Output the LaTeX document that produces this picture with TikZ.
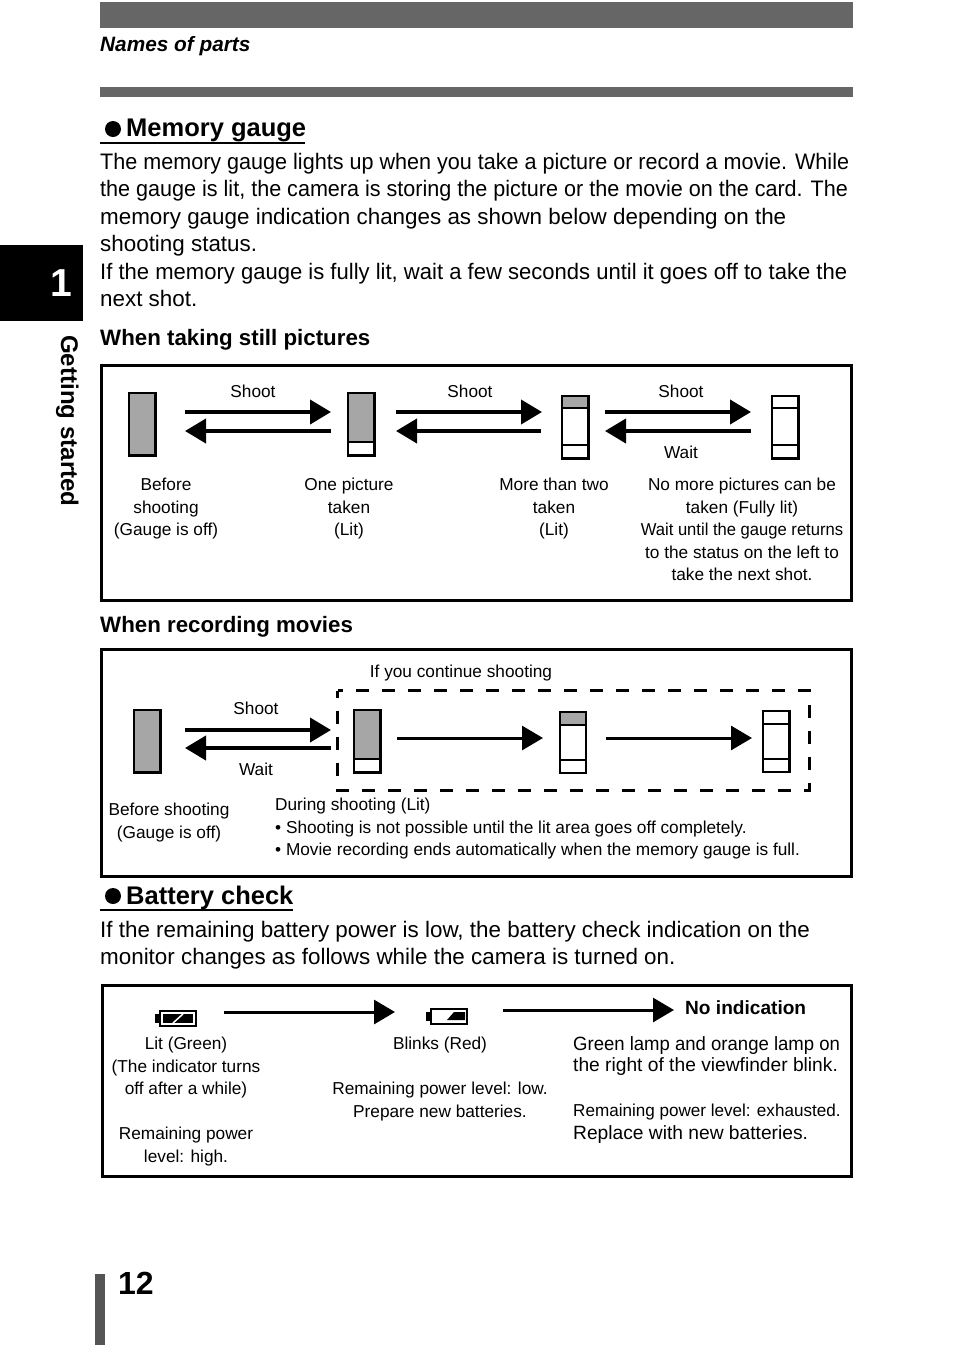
\documentclass[tikz,border=0pt]{standalone}
\usepackage{fontspec}
\setmainfont{Liberation Sans}
\usetikzlibrary{arrows.meta}
\definecolor{bargray}{HTML}{666666}
\definecolor{gaugegray}{HTML}{A6A6A6}
\definecolor{markgray}{HTML}{555555}
\newcommand{\bigline}[1]{\fontsize{19.2}{22.5}\selectfont #1}
\tikzset{
  x=1pt,y=-1pt,
  body/.style={inner sep=0pt,anchor=north west,align=left,font=\fontsize{22.4}{27.4}\selectfont},
  head/.style={inner sep=0pt,anchor=base west,font=\bfseries\fontsize{22.3}{26}\selectfont},
  title/.style={inner sep=0pt,anchor=base west,font=\bfseries\fontsize{25.5}{30}\selectfont},
  small/.style={inner sep=0pt,anchor=north,align=center,font=\fontsize{17.25}{22.5}\selectfont},
  smallL/.style={small,anchor=north west,align=left},
  frameb/.style={draw=black,line width=3pt,fill=none},
  gauge/.style={draw=black,line width=2.4pt,outer sep=0pt,minimum width=26.4pt,minimum height=62.2pt,inner sep=0pt,anchor=north west},
  divider/.style={line width=1.4pt},
  bigarrow/.style={line width=4pt,-{Triangle[length=21pt,width=24pt]}},
  thinarrow/.style={line width=3pt,-{Triangle[length=21pt,width=24pt]}},
  bullet/.style={circle,fill=black,inner sep=0pt,minimum size=16pt},
  battery/.style={draw=black,line width=2.2pt,fill=white,minimum width=36pt,minimum height=15pt,inner sep=0pt,anchor=north west},
}
\begin{document}
\begin{tikzpicture}
\useasboundingbox (0,0) rectangle (954,1345);
% page furniture
\fill[bargray] (100,2) rectangle (853,28);
\fill[bargray] (100,87) rectangle (853,97);
\fill[black] (0,245) rectangle (83,321);
\fill[markgray] (95,1274) rectangle (105,1345);
\node[inner sep=0pt,anchor=base west,font=\bfseries\itshape\fontsize{20.8}{24}\selectfont] (names) at (100,51) {Names of parts};
\node[inner sep=0pt,anchor=base,text=white,font=\bfseries\fontsize{39}{43}\selectfont] (chap) at (61,296) {1};
\node[inner sep=0pt,anchor=base west,rotate=-90,font=\bfseries\fontsize{24.1}{28}\selectfont] (getting) at (61,335) {Getting started};
\node[inner sep=0pt,anchor=base west,font=\bfseries\fontsize{32}{38}\selectfont] (pageno) at (118,1294) {12};
% memory gauge text
\node[bullet] (b1) at (113,129) {};
\node[title] (t1) at (126,136.5) {Memory gauge};
\draw[line width=1.5pt] (100,143) -- (305,143);
\node[body] (p1) at (100,153) {\scalebox{.963}[1]{The memory gauge lights up when you take a picture or record a movie. While}\\\scalebox{.963}[1]{the gauge is lit, the camera is storing the picture or the movie on the card. The}\\memory gauge indication changes as shown below depending on the\\shooting status.\\\scalebox{.984}[1]{If the memory gauge is fully lit, wait a few seconds until it goes off to take the}\\next shot.};
\node[head] (h1) at (100,345) {When taking still pictures};
% still box
\draw[frameb] (101.5,365) rectangle (851.5,600.5);
\node[gauge,fill=gaugegray] (g1) at (129.2,393.2) {};
\node[gauge,fill=white] (g2) at (348.2,393.2) {};
\fill[gaugegray] (g2.north west) rectangle (g2.east |- 0,442);
\draw[gauge,fill=none] (g2.north west) rectangle (g2.south east);
\draw[divider] (g2.west |- 0,442) -- (g2.east |- 0,442);
\node[gauge,fill=white] (g3) at (562.2,396.2) {};
\fill[gaugegray] (g3.north west) rectangle (g3.east |- 0,408);
\draw[gauge,fill=none] (g3.north west) rectangle (g3.south east);
\draw[divider] (g3.west |- 0,408) -- (g3.east |- 0,408) (g3.west |- 0,445) -- (g3.east |- 0,445);
\node[gauge,fill=white] (g4) at (772.2,396.2) {};
\draw[divider] (g4.west |- 0,408) -- (g4.east |- 0,408) (g4.west |- 0,445) -- (g4.east |- 0,445);
\coordinate (a1s) at (185,412); \coordinate (a1e) at (331,412);
\coordinate (a2s) at (331,431); \coordinate (a2e) at (185,431);
\coordinate (a3s) at (396,412); \coordinate (a3e) at (542,412);
\coordinate (a4s) at (541,431); \coordinate (a4e) at (396,431);
\coordinate (a5s) at (605,412); \coordinate (a5e) at (751,412);
\coordinate (a6s) at (751,431); \coordinate (a6e) at (605,431);
\draw[bigarrow] (a1s) -- (a1e);
\draw[bigarrow] (a2s) -- (a2e);
\draw[bigarrow] (a3s) -- (a3e);
\draw[bigarrow] (a4s) -- (a4e);
\draw[bigarrow] (a5s) -- (a5e);
\draw[bigarrow] (a6s) -- (a6e);
\node[small] (s1) at (253,385) {Shoot};
\node[small] (s2) at (470,385) {Shoot};
\node[small] (s3) at (681,385) {Shoot};
\node[small] (s4) at (681,445.5) {Wait};
\node[small] (c1) at (166,478) {Before\\shooting\\(Gauge is off)};
\node[small] (c2) at (349,478) {One picture\\taken\\(Lit)};
\node[small] (c3) at (554,478) {More than two\\taken\\(Lit)};
\node[small] (c4) at (742,478) {No more pictures can be\\taken (Fully lit)\\\scalebox{.962}[1]{Wait until the gauge returns}\\to the status on the left to\\take the next shot.};
% movies
\node[head] (h2) at (100,632) {When recording movies};
\draw[frameb] (101.5,649.5) rectangle (851.5,876);
\node[small] (m0) at (461,665) {If you continue shooting};
\draw[line width=3pt,dash pattern=on 13pt off 13pt,dash phase=6pt] (337.5,690.5) rectangle (809.5,790);
\node[gauge,fill=gaugegray] (m1) at (134.2,710.2) {};
\node[gauge,fill=white] (m2) at (354.2,710.2) {};
\fill[gaugegray] (m2.north west) rectangle (m2.east |- 0,759);
\draw[gauge,fill=none] (m2.north west) rectangle (m2.south east);
\draw[divider] (m2.west |- 0,759) -- (m2.east |- 0,759);
\node[gauge,fill=white,minimum width=26pt,minimum height=61pt] (m3) at (560.2,712.2) {};
\fill[gaugegray] (m3.north west) rectangle (m3.east |- 0,725);
\draw[gauge,fill=none] (m3.north west) rectangle (m3.south east);
\draw[divider] (m3.west |- 0,725) -- (m3.east |- 0,725) (m3.west |- 0,760) -- (m3.east |- 0,760);
\node[gauge,fill=white,minimum height=61pt] (m4) at (763.2,711.2) {};
\draw[divider] (m4.west |- 0,724) -- (m4.east |- 0,724) (m4.west |- 0,759) -- (m4.east |- 0,759);
\coordinate (ma1s) at (185,730); \coordinate (ma1e) at (331,730);
\coordinate (ma2s) at (331,748); \coordinate (ma2e) at (185,748);
\coordinate (ma3s) at (397,738); \coordinate (ma3e) at (543,738);
\coordinate (ma4s) at (606,738); \coordinate (ma4e) at (752,738);
\draw[bigarrow] (ma1s) -- (ma1e);
\draw[bigarrow] (ma2s) -- (ma2e);
\draw[thinarrow] (ma3s) -- (ma3e);
\draw[thinarrow] (ma4s) -- (ma4e);
\node[small] (ms) at (256,702) {Shoot};
\node[small] (mw) at (256,762.5) {Wait};
\node[small] (mb) at (169,803) {Before shooting\\(Gauge is off)};
\node[smallL] (md) at (275,798) {During shooting (Lit)\\• Shooting is not possible until the lit area goes off completely.\\• Movie recording ends automatically when the memory gauge is full.};
% battery text
\node[bullet] (b2) at (113,896) {};
\node[title] (t2) at (126,904) {Battery check};
\draw[line width=1.5pt] (100,910) -- (293,910);
\node[body] (p2) at (100,921) {If the remaining battery power is low, the battery check indication on the\\monitor changes as follows while the camera is turned on.};
% battery box
\draw[frameb] (102,985.5) rectangle (851,1176);
% battery icon 1
\node[battery] (bat1) at (159,1010) {};
\fill[black] (155,1014) rectangle (159,1023);
\fill[black] (163,1014) rectangle (193,1023);
\draw[white,line width=1.5pt] (173,1023) -- (183,1014);
% battery icon 2
\node[battery] (bat2) at (430,1008) {};
\fill[black] (426,1012) rectangle (430,1021);
\fill[black] (447,1020) -- (454,1012) -- (465,1012) -- (465,1020) -- cycle;
\coordinate (ba1s) at (224,1012); \coordinate (ba1e) at (395,1012);
\coordinate (ba2s) at (503,1010); \coordinate (ba2e) at (674,1010);
\draw[thinarrow] (ba1s) -- (ba1e);
\draw[thinarrow] (ba2s) -- (ba2e);
\node[inner sep=0pt,anchor=base west,font=\bfseries\fontsize{19.1}{22}\selectfont] (noind) at (685,1014) {No indication};
\node[small] (bc1) at (186,1037) {Lit (Green)\\(The indicator turns\\off after a while)\\[22.5pt]Remaining power\\level: high.};
\node[small] (bc2) at (440,1037) {Blinks (Red)\\[22.5pt]Remaining power level: low.\\Prepare new batteries.};
\node[smallL] (bc3) at (573,1036) {\bigline{\scalebox{.965}[1]{Green lamp and orange lamp on}}\\[-1pt]\bigline{the right of the viewfinder blink.}\\[22.5pt]\scalebox{.99}[1]{Remaining power level: exhausted.}\\\bigline{Replace with new batteries.}};
\end{tikzpicture}
\end{document}
